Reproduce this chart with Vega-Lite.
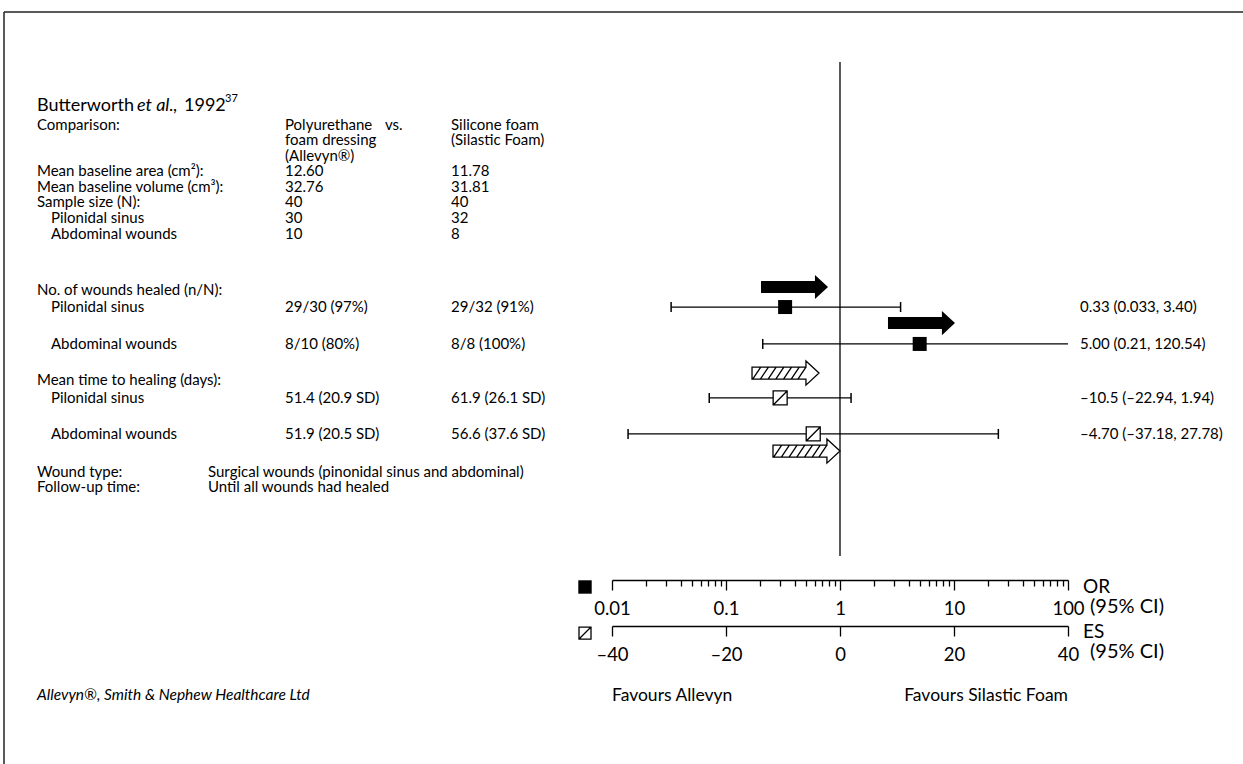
{
  "$schema": "https://vega.github.io/schema/vega-lite/v6.json",
  "width": 1243,
  "height": 580,
  "autosize": {"type": "none"},
  "padding": {"left": 0, "top": 0, "right": 0, "bottom": 184},
  "background": "white",
  "config": {
    "view": {"stroke": null},
    "font": "Lato",
    "text": {"font": "Lato", "fontSize": 15, "color": "black", "baseline": "middle", "align": "left"},
    "axis": {
      "domainColor": "black", "domainWidth": 1.3, "tickColor": "black", "tickWidth": 1.3,
      "labelColor": "black", "labelFont": "Lato", "labelFontSize": 18.5, "grid": false,
      "title": null, "labelFlush": false, "labelOverlap": false, "labelPadding": 9
    }
  },
  "datasets": {
    "rows": [
      {"line": 8, "label": "Comparison:", "allevyn": "Polyurethane", "vs": "vs.", "silastic": "Silicone foam"},
      {"line": 9, "allevyn": "foam dressing", "silastic": "(Silastic Foam)"},
      {"line": 10, "allevyn": "(Allevyn®)"},
      {"line": 11, "label": "Mean baseline area (cm²):", "allevyn": "12.60", "silastic": "11.78"},
      {"line": 12, "label": "Mean baseline volume (cm³):", "allevyn": "32.76", "silastic": "31.81"},
      {"line": 13, "label": "Sample size (N):", "allevyn": "40", "silastic": "40"},
      {"line": 14, "sub": "Pilonidal sinus", "allevyn": "30", "silastic": "32"},
      {"line": 15, "sub": "Abdominal wounds", "allevyn": "10", "silastic": "8"},
      {"line": 18.63, "label": "No. of wounds healed (n/N):"},
      {"line": 19.72, "sub": "Pilonidal sinus", "allevyn": "29/30 (97%)", "silastic": "29/32 (91%)", "measure": "OR", "est": 0.33, "lo": 0.033, "hi": 3.40, "ci": "0.33 (0.033, 3.40)"},
      {"line": 22.09, "sub": "Abdominal wounds", "allevyn": "8/10 (80%)", "silastic": "8/8 (100%)", "measure": "OR", "est": 5.00, "lo": 0.21, "hi": 120.54, "ci": "5.00 (0.21, 120.54)"},
      {"line": 24.41, "label": "Mean time to healing (days):"},
      {"line": 25.56, "sub": "Pilonidal sinus", "allevyn": "51.4 (20.9 SD)", "silastic": "61.9 (26.1 SD)", "measure": "ES", "est": -10.5, "lo": -22.94, "hi": 1.94, "ci": "–10.5 (–22.94, 1.94)"},
      {"line": 27.87, "sub": "Abdominal wounds", "allevyn": "51.9 (20.5 SD)", "silastic": "56.6 (37.6 SD)", "measure": "ES", "est": -4.70, "lo": -37.18, "hi": 27.78, "ci": "–4.70 (–37.18, 27.78)"},
      {"line": 30.31, "label": "Wound type:", "detail": "Surgical wounds (pinonidal sinus and abdominal)"},
      {"line": 31.28, "label": "Follow-up time:", "detail": "Until all wounds had healed"}
    ],
    "arrows": [
      {"measure": "OR", "line": 18.43, "tip": 0.785},
      {"measure": "OR", "line": 20.75, "tip": 10.2},
      {"measure": "ES", "line": 23.96, "tip": -3.68},
      {"measure": "ES", "line": 28.97, "tip": 0}
    ]
  },
  "resolve": {"scale": {"x": "independent"}, "axis": {"x": "independent"}},
  "layer": [
    {
      "data": {"values": [{}]},
      "mark": {"type": "rule", "stroke": "#222", "strokeWidth": 1.5},
      "encoding": {
        "x": {"datum": 4, "type": "quantitative", "scale": {"domain": [0, 1243], "nice": false, "zero": false}, "axis": null},
        "x2": {"datum": 1243},
        "y": {"datum": 0.7707, "type": "quantitative", "scale": {"domain": [0, 37.251], "reverse": true, "nice": false, "zero": false}, "axis": null}
      }
    },
    {
      "data": {"values": [{}]},
      "mark": {"type": "rule", "stroke": "#222", "strokeWidth": 1.5},
      "encoding": {
        "x": {"datum": 4, "type": "quantitative", "scale": {"domain": [0, 1243], "nice": false, "zero": false}, "axis": null},
        "y": {"datum": 0.7707, "type": "quantitative", "axis": null},
        "y2": {"datum": 49.07}
      }
    },
    {
      "data": {"values": [{}]},
      "mark": {"type": "rule", "stroke": "black", "strokeWidth": 1.3},
      "encoding": {
        "x": {"datum": 0, "type": "quantitative", "scale": {"domain": [-40, 40], "range": [612, 1068], "nice": false, "zero": false}, "axis": null},
        "y": {"datum": 3.98, "type": "quantitative", "axis": null},
        "y2": {"datum": 35.71}
      }
    },
    {
      "data": {"name": "rows"},
      "transform": [{"filter": "datum.measure === 'OR'"}],
      "mark": {"type": "rule", "stroke": "black", "strokeWidth": 1.3},
      "encoding": {
        "x": {"field": "lo", "type": "quantitative", "scale": {"type": "log", "domain": [0.01, 100], "range": [612, 1068], "clamp": true, "nice": false}, "axis": null},
        "x2": {"field": "hi"},
        "y": {"field": "line", "type": "quantitative", "axis": null}
      }
    },
    {
      "data": {"name": "rows"},
      "transform": [{"filter": "datum.measure === 'OR' && datum.lo >= 0.01"}],
      "mark": {"type": "point", "shape": "M0,-1L0,1", "size": 100, "stroke": "black", "strokeWidth": 1.5, "opacity": 1, "filled": false},
      "encoding": {
        "x": {"field": "lo", "type": "quantitative", "scale": {"type": "log", "domain": [0.01, 100], "range": [612, 1068], "clamp": true, "nice": false}, "axis": null},
        "y": {"field": "line", "type": "quantitative", "axis": null}
      }
    },
    {
      "data": {"name": "rows"},
      "transform": [{"filter": "datum.measure === 'OR' && datum.hi <= 100"}],
      "mark": {"type": "point", "shape": "M0,-1L0,1", "size": 100, "stroke": "black", "strokeWidth": 1.5, "opacity": 1, "filled": false},
      "encoding": {
        "x": {
          "field": "hi", "type": "quantitative",
          "scale": {"type": "log", "domain": [0.01, 100], "range": [612, 1068], "clamp": true, "nice": false},
          "axis": {
            "orient": "bottom", "offset": 0, "domain": false, "labels": false, "tickSize": 6,
            "values": [0.02, 0.03, 0.04, 0.05, 0.06, 0.07, 0.08, 0.09, 0.2, 0.3, 0.4, 0.5, 0.6, 0.7, 0.8, 0.9, 2, 3, 4, 5, 6, 7, 8, 9, 20, 30, 40, 50, 60, 70, 80, 90]
          }
        },
        "y": {"field": "line", "type": "quantitative", "axis": null}
      }
    },
    {
      "data": {"name": "rows"},
      "transform": [{"filter": "datum.measure === 'OR'"}],
      "mark": {"type": "point", "shape": "square", "size": 196, "fill": "black", "stroke": null, "filled": true, "opacity": 1},
      "encoding": {
        "x": {
          "field": "est", "type": "quantitative",
          "scale": {"type": "log", "domain": [0.01, 100], "range": [612, 1068], "clamp": true, "nice": false},
          "axis": {"orient": "bottom", "offset": 0, "values": [0.01, 0.1, 1, 10, 100], "format": "~g", "tickSize": 10}
        },
        "y": {"field": "line", "type": "quantitative", "axis": null}
      }
    },
    {
      "data": {"name": "arrows"},
      "transform": [{"filter": "datum.measure === 'OR'"}],
      "mark": {"type": "point", "shape": "M-2,-0.18L-0.39,-0.18L-0.39,-0.36L0,0L-0.39,0.36L-0.39,0.18L-2,0.18Z", "size": 4489, "fill": "black", "stroke": null, "filled": true, "opacity": 1},
      "encoding": {
        "x": {"field": "tip", "type": "quantitative", "scale": {"type": "log", "domain": [0.01, 100], "range": [612, 1068], "clamp": true, "nice": false}, "axis": null},
        "y": {"field": "line", "type": "quantitative", "axis": null}
      }
    },
    {
      "data": {"name": "rows"},
      "transform": [{"filter": "datum.measure === 'ES'"}],
      "mark": {"type": "rule", "stroke": "black", "strokeWidth": 1.3},
      "encoding": {
        "x": {"field": "lo", "type": "quantitative", "scale": {"domain": [-40, 40], "range": [612, 1068], "nice": false, "zero": false}, "axis": null},
        "x2": {"field": "hi"},
        "y": {"field": "line", "type": "quantitative", "axis": null}
      }
    },
    {
      "data": {"name": "rows"},
      "transform": [{"filter": "datum.measure === 'ES'"}],
      "mark": {"type": "point", "shape": "M0,-1L0,1", "size": 100, "stroke": "black", "strokeWidth": 1.5, "opacity": 1, "filled": false},
      "encoding": {
        "x": {"field": "lo", "type": "quantitative", "scale": {"domain": [-40, 40], "range": [612, 1068], "nice": false, "zero": false}, "axis": null},
        "y": {"field": "line", "type": "quantitative", "axis": null}
      }
    },
    {
      "data": {"name": "rows"},
      "transform": [{"filter": "datum.measure === 'ES'"}],
      "mark": {"type": "point", "shape": "M0,-1L0,1", "size": 100, "stroke": "black", "strokeWidth": 1.5, "opacity": 1, "filled": false},
      "encoding": {
        "x": {"field": "hi", "type": "quantitative", "scale": {"domain": [-40, 40], "range": [612, 1068], "nice": false, "zero": false}, "axis": null},
        "y": {"field": "line", "type": "quantitative", "axis": null}
      }
    },
    {
      "data": {"name": "rows"},
      "transform": [{"filter": "datum.measure === 'ES'"}],
      "mark": {"type": "point", "shape": "M-1,-1L1,-1L1,1L-1,1Z M-1,1L1,-1", "size": 196, "fill": "white", "stroke": "black", "strokeWidth": 1.3, "filled": true, "opacity": 1},
      "encoding": {
        "x": {
          "field": "est", "type": "quantitative",
          "scale": {"domain": [-40, 40], "range": [612, 1068], "nice": false, "zero": false},
          "axis": {"orient": "bottom", "offset": 46, "values": [-40, -20, 0, 20, 40], "tickSize": 10, "labelExpr": "datum.value < 0 ? '–' + format(-datum.value, 'd') : format(datum.value, 'd')"}
        },
        "y": {"field": "line", "type": "quantitative", "axis": null}
      }
    },
    {
      "data": {"name": "arrows"},
      "transform": [{"filter": "datum.measure === 'ES'"}],
      "mark": {"type": "point", "shape": "M-2,-0.18L-0.39,-0.18L-0.39,-0.36L0,0L-0.39,0.36L-0.39,0.18L-2,0.18Z M-1.98,0.18L-1.74,-0.18 M-1.75,0.18L-1.51,-0.18 M-1.52,0.18L-1.28,-0.18 M-1.29,0.18L-1.05,-0.18 M-1.06,0.18L-0.82,-0.18 M-0.83,0.18L-0.59,-0.18 M-0.63,0.18L-0.39,-0.18", "size": 4489, "fill": "white", "stroke": "black", "strokeWidth": 1.3, "filled": true, "opacity": 1},
      "encoding": {
        "x": {"field": "tip", "type": "quantitative", "scale": {"domain": [-40, 40], "range": [612, 1068], "nice": false, "zero": false}, "axis": null},
        "y": {"field": "line", "type": "quantitative", "axis": null}
      }
    },
    {
      "data": {"name": "rows"},
      "transform": [{"filter": "datum.label != null"}],
      "mark": {"type": "text"},
      "encoding": {
        "x": {"datum": 37, "type": "quantitative", "scale": {"domain": [0, 1243], "nice": false, "zero": false}, "axis": null},
        "y": {"field": "line", "type": "quantitative", "axis": null},
        "text": {"field": "label"}
      }
    },
    {
      "data": {"name": "rows"},
      "transform": [{"filter": "datum.sub != null"}],
      "mark": {"type": "text"},
      "encoding": {
        "x": {"datum": 51, "type": "quantitative", "scale": {"domain": [0, 1243], "nice": false, "zero": false}, "axis": null},
        "y": {"field": "line", "type": "quantitative", "axis": null},
        "text": {"field": "sub"}
      }
    },
    {
      "data": {"name": "rows"},
      "transform": [{"filter": "datum.allevyn != null"}],
      "mark": {"type": "text"},
      "encoding": {
        "x": {"datum": 285, "type": "quantitative", "scale": {"domain": [0, 1243], "nice": false, "zero": false}, "axis": null},
        "y": {"field": "line", "type": "quantitative", "axis": null},
        "text": {"field": "allevyn"}
      }
    },
    {
      "data": {"name": "rows"},
      "transform": [{"filter": "datum.vs != null"}],
      "mark": {"type": "text"},
      "encoding": {
        "x": {"datum": 385, "type": "quantitative", "scale": {"domain": [0, 1243], "nice": false, "zero": false}, "axis": null},
        "y": {"field": "line", "type": "quantitative", "axis": null},
        "text": {"field": "vs"}
      }
    },
    {
      "data": {"name": "rows"},
      "transform": [{"filter": "datum.silastic != null"}],
      "mark": {"type": "text"},
      "encoding": {
        "x": {"datum": 451, "type": "quantitative", "scale": {"domain": [0, 1243], "nice": false, "zero": false}, "axis": null},
        "y": {"field": "line", "type": "quantitative", "axis": null},
        "text": {"field": "silastic"}
      }
    },
    {
      "data": {"name": "rows"},
      "transform": [{"filter": "datum.detail != null"}],
      "mark": {"type": "text"},
      "encoding": {
        "x": {"datum": 208, "type": "quantitative", "scale": {"domain": [0, 1243], "nice": false, "zero": false}, "axis": null},
        "y": {"field": "line", "type": "quantitative", "axis": null},
        "text": {"field": "detail"}
      }
    },
    {
      "data": {"name": "rows"},
      "transform": [{"filter": "datum.ci != null"}],
      "mark": {"type": "text"},
      "encoding": {
        "x": {"datum": 1080, "type": "quantitative", "scale": {"domain": [0, 1243], "nice": false, "zero": false}, "axis": null},
        "y": {"field": "line", "type": "quantitative", "axis": null},
        "text": {"field": "ci"}
      }
    },
    {
      "data": {"values": [{}]},
      "mark": {"type": "text", "fontSize": 18},
      "encoding": {
        "x": {"datum": 37, "type": "quantitative", "scale": {"domain": [0, 1243], "nice": false, "zero": false}, "axis": null},
        "y": {"datum": 6.81, "type": "quantitative", "axis": null},
        "text": {"value": "Butterworth"}
      }
    },
    {
      "data": {"values": [{}]},
      "mark": {"type": "text", "fontSize": 18, "fontStyle": "italic"},
      "encoding": {
        "x": {"datum": 137, "type": "quantitative", "scale": {"domain": [0, 1243], "nice": false, "zero": false}, "axis": null},
        "y": {"datum": 6.81, "type": "quantitative", "axis": null},
        "text": {"value": "et al.,"}
      }
    },
    {
      "data": {"values": [{}]},
      "mark": {"type": "text", "fontSize": 18},
      "encoding": {
        "x": {"datum": 184, "type": "quantitative", "scale": {"domain": [0, 1243], "nice": false, "zero": false}, "axis": null},
        "y": {"datum": 6.81, "type": "quantitative", "axis": null},
        "text": {"value": "1992"}
      }
    },
    {
      "data": {"values": [{}]},
      "mark": {"type": "text", "fontSize": 11},
      "encoding": {
        "x": {"datum": 225, "type": "quantitative", "scale": {"domain": [0, 1243], "nice": false, "zero": false}, "axis": null},
        "y": {"datum": 6.38, "type": "quantitative", "axis": null},
        "text": {"value": "37"}
      }
    },
    {
      "data": {"values": [{}]},
      "mark": {"type": "point", "shape": "square", "size": 180, "fill": "black", "stroke": null, "filled": true, "opacity": 1},
      "encoding": {
        "x": {"datum": 585, "type": "quantitative", "scale": {"domain": [0, 1243], "nice": false, "zero": false}, "axis": null},
        "y": {"datum": 37.70, "type": "quantitative", "axis": null}
      }
    },
    {
      "data": {"values": [{}]},
      "mark": {"type": "point", "shape": "M-1,-1L1,-1L1,1L-1,1Z M-1,1L1,-1", "size": 144, "fill": "white", "stroke": "black", "strokeWidth": 1.3, "filled": true, "opacity": 1},
      "encoding": {
        "x": {"datum": 585, "type": "quantitative", "scale": {"domain": [0, 1243], "nice": false, "zero": false}, "axis": null},
        "y": {"datum": 40.66, "type": "quantitative", "axis": null}
      }
    },
    {
      "data": {"values": [
        {"t": "OR", "line": 37.70},
        {"t": "ES", "line": 40.59}
      ]},
      "mark": {"type": "text", "fontSize": 19},
      "encoding": {
        "x": {"datum": 1083, "type": "quantitative", "scale": {"domain": [0, 1243], "nice": false, "zero": false}, "axis": null},
        "y": {"field": "line", "type": "quantitative", "axis": null},
        "text": {"field": "t"}
      }
    },
    {
      "data": {"values": [
        {"t": "(95% CI)", "line": 38.99},
        {"t": "(95% CI)", "line": 41.88}
      ]},
      "mark": {"type": "text", "fontSize": 20},
      "encoding": {
        "x": {"datum": 1090, "type": "quantitative", "scale": {"domain": [0, 1243], "nice": false, "zero": false}, "axis": null},
        "y": {"field": "line", "type": "quantitative", "axis": null},
        "text": {"field": "t"}
      }
    },
    {
      "data": {"values": [{}]},
      "mark": {"type": "text", "fontSize": 17.5, "align": "left"},
      "encoding": {
        "x": {"datum": 0.01, "type": "quantitative", "scale": {"type": "log", "domain": [0.01, 100], "range": [612, 1068], "nice": false}, "axis": null},
        "y": {"datum": 44.70, "type": "quantitative", "axis": null},
        "text": {"value": "Favours Allevyn"}
      }
    },
    {
      "data": {"values": [{}]},
      "mark": {"type": "text", "fontSize": 17.5, "align": "right"},
      "encoding": {
        "x": {"datum": 100, "type": "quantitative", "scale": {"type": "log", "domain": [0.01, 100], "range": [612, 1068], "nice": false}, "axis": null},
        "y": {"datum": 44.70, "type": "quantitative", "axis": null},
        "text": {"value": "Favours Silastic Foam"}
      }
    },
    {
      "data": {"values": [{}]},
      "mark": {"type": "text", "fontSize": 15.5, "fontStyle": "italic"},
      "encoding": {
        "x": {"datum": 37, "type": "quantitative", "scale": {"domain": [0, 1243], "nice": false, "zero": false}, "axis": null},
        "y": {"datum": 44.64, "type": "quantitative", "axis": null},
        "text": {"value": "Allevyn®, Smith & Nephew Healthcare Ltd"}
      }
    }
  ]
}
